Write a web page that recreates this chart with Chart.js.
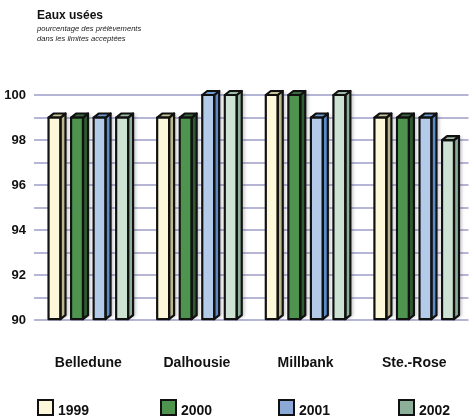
<!DOCTYPE html>
<html lang="fr">
<head>
  <meta charset="UTF-8">
  <title>Eaux usées</title>
  <script src="https://cdn.jsdelivr.net/npm/chart.js"></script>
  <style>
    html, body {
      margin: 0;
      padding: 0;
      background: #ffffff;
      font-family: 'Liberation Sans', Arial, Helvetica, sans-serif;
    }

    .wrap {
      position: relative;
      width: 474px;
      height: 419px;
      overflow: hidden;
    }

    #chart {
      position: absolute;
      left: 0;
      top: 0;
    }

    .title {
      position: absolute;
      left: 37px;
      top: 8px;
      color: #111;
    }

    .title h1 {
      margin: 0;
      font-size: 12px;
      font-weight: bold;
      line-height: 14px;
    }

    .title p {
      margin: 2px 0 0 0;
      font-size: 7.6px;
      font-style: italic;
      line-height: 10px;
      color: #222;
    }

    .legend-item {
      position: absolute;
      top: 399px;
      display: flex;
      align-items: flex-end;
      font-size: 14px;
      font-weight: bold;
      color: #111;
    }

    .legend-item .box {
      width: 13px;
      height: 13px;
      border: 2px solid #111;
      margin-right: 4px;
    }

    .legend-item span {
      line-height: 14px;
      position: relative;
      top: 1px;
    }
  </style>
</head>
<body>
  <div class="wrap">
    <canvas id="chart" width="474" height="419"></canvas>
    <div class="title">
      <h1>Eaux usées</h1>
      <p>pourcentage des prélèvements<br>dans les limites acceptées</p>
    </div>
    <div id="legend"></div>
  </div>

  <script>
    const categories = ['Belledune', 'Dalhousie', 'Millbank', 'Ste.-Rose'];
    const years = ['1999', '2000', '2001', '2002'];

    const values1999 = [99, 99, 100, 99];
    const values2000 = [99, 99, 100, 99];
    const values2001 = [99, 100, 99, 99];
    const values2002 = [99, 100, 100, 98];

    const yMin = 90;
    const yMax = 100;

    // front / right side / top face colours of each bar series
    const frontColors = ['#fdf8d9', '#4e944f', '#b3cbe9', '#cde2d3'];
    const sideColors = ['#bbb78a', '#2f5b31', '#5a8bc9', '#8caf97'];
    const topColors = ['#c9c495', '#3b6c3d', '#6c9ad2', '#9dbca6'];
    const legendColors = ['#fdf8d9', '#4e944f', '#8aa9d6', '#8caf99'];
    const legendLeft = [37, 160, 278, 398];

    const series = [values1999, values2000, values2001, values2002];

    // depth of the fake 3d extrusion
    const DX = 5;
    const DY = 4;

    const depthPlugin = {
      id: 'depth3d',
      afterDatasetsDraw(chart) {
        const ctx = chart.ctx;
        chart.data.datasets.forEach((ds, i) => {
          const meta = chart.getDatasetMeta(i);
          meta.data.forEach(bar => {
            const { x, y, base, width } = bar.getProps(['x', 'y', 'base', 'width'], true);
            const l = x - width / 2;
            const r = x + width / 2;

            ctx.save();
            ctx.lineJoin = 'round';
            ctx.lineWidth = 2.2;
            ctx.strokeStyle = '#111';

            // right side face, with a soft shadow behind it
            ctx.beginPath();
            ctx.moveTo(r, y);
            ctx.lineTo(r + DX, y - DY);
            ctx.lineTo(r + DX, base - DY);
            ctx.lineTo(r, base);
            ctx.closePath();
            ctx.save();
            ctx.shadowColor = 'rgba(60, 60, 80, 0.25)';
            ctx.shadowOffsetX = 3;
            ctx.shadowBlur = 3;
            ctx.fillStyle = sideColors[i];
            ctx.fill();
            ctx.restore();
            ctx.stroke();

            // top face
            ctx.beginPath();
            ctx.moveTo(l, y);
            ctx.lineTo(l + DX, y - DY);
            ctx.lineTo(r + DX, y - DY);
            ctx.lineTo(r, y);
            ctx.closePath();
            ctx.fillStyle = topColors[i];
            ctx.fill();
            ctx.stroke();

            // redraw front outline so it sits on top
            ctx.strokeRect(l, y, width, base - y);
            ctx.restore();
          });
        });
      }
    };

    const ctx = document.getElementById('chart').getContext('2d');

    const chart = new Chart(ctx, {
      type: 'bar',
      data: {
        labels: categories,
        datasets: years.map((yr, i) => ({
          label: yr,
          data: series[i],
          base: yMin,
          backgroundColor: frontColors[i],
          borderWidth: 0,
          categoryPercentage: 0.83,
          barPercentage: 0.53
        }))
      },
      plugins: [depthPlugin],
      options: {
        responsive: false,
        animation: false,
        layout: {
          padding: { top: 95, right: 4, bottom: 20, left: 0 }
        },
        plugins: {
          legend: { display: false },
          tooltip: { enabled: false }
        },
        scales: {
          x: {
            grid: { display: false },
            border: { display: false },
            ticks: {
              color: '#111',
              padding: 27,
              font: { family: "'Liberation Sans', Arial, sans-serif", size: 14, weight: 'bold' }
            }
          },
          y: {
            min: yMin,
            max: yMax,
            afterFit(scale) { scale.width = 34; },
            border: { display: false },
            grid: {
              color: '#b5b5d6',
              lineWidth: 2,
              drawTicks: false
            },
            ticks: {
              stepSize: 1,
              padding: 8,
              color: '#111',
              font: { family: "'Liberation Sans', Arial, sans-serif", size: 13, weight: 'bold' },
              callback: v => (v % 2 === 0 ? v : '')
            }
          }
        }
      }
    });

    // legend row under the chart
    const legend = document.getElementById('legend');
    years.forEach((yr, i) => {
      const item = document.createElement('div');
      item.className = 'legend-item';
      item.style.left = legendLeft[i] + 'px';
      item.innerHTML = '<div class="box" style="background:' + legendColors[i] + '"></div><span>' + yr + '</span>';
      legend.appendChild(item);
    });
  </script>
</body>
</html>
